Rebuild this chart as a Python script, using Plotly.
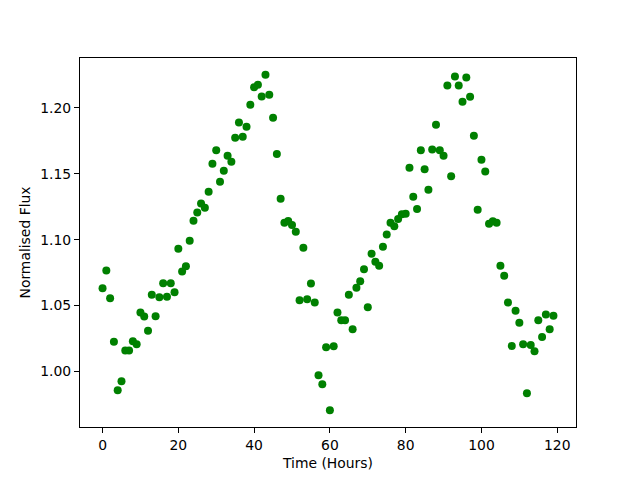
import plotly.graph_objects as go

time_hours = list(range(120))
flux = [
    1.0631, 1.0767, 1.0555, 1.0227, 0.9858, 0.9926, 1.0159, 1.0159, 1.0230, 1.0207,
    1.0447, 1.0417, 1.0310, 1.0583, 1.0419, 1.0563, 1.0669, 1.0568, 1.0669, 1.0601,
    1.0932, 1.0758, 1.0798, 1.0992, 1.1144, 1.1205, 1.1275, 1.1242, 1.1364, 1.1576,
    1.1677, 1.1439, 1.1523, 1.1636, 1.1591, 1.1773, 1.1889, 1.1780, 1.1856, 1.2023,
    1.2156, 1.2174, 1.2086, 1.2250, 1.2098, 1.1924, 1.1649, 1.1311, 1.1129, 1.1141,
    1.1111, 1.1060, 1.0540, 1.0939, 1.0548, 1.0667, 1.0523, 0.9972, 0.9904, 1.0184,
    0.9707, 1.0192, 1.0447, 1.0389, 1.0389, 1.0583, 1.0320, 1.0636, 1.0684, 1.0775,
    1.0487, 1.0894, 1.0833, 1.0803, 1.0947, 1.1040, 1.1129, 1.1101, 1.1156, 1.1192,
    1.1197, 1.1545, 1.1326, 1.1232, 1.1677, 1.1533, 1.1379, 1.1684, 1.1871, 1.1677,
    1.1636, 1.2169, 1.1480, 1.2237, 1.2169, 1.2045, 1.2230, 1.2083, 1.1788, 1.1227,
    1.1606, 1.1517, 1.1121, 1.1139, 1.1129, 1.0803, 1.0727, 1.0523, 1.0194, 1.0462,
    1.0371, 1.0207, 0.9836, 1.0202, 1.0154, 1.0389, 1.0262, 1.0432, 1.0320, 1.0424,
]
x_ticks = [0, 20, 40, 60, 80, 100, 120]
y_ticks = [1.00, 1.05, 1.10, 1.15, 1.20]

fig = go.Figure(go.Scatter(
    x=time_hours, y=flux, mode="markers",
    marker=dict(color="green", size=8, line=dict(width=0)),
))

font = dict(family="DejaVu Sans", size=13.9, color="black")
axis_common = dict(
    showline=True, linecolor="black", linewidth=1, mirror=True,
    ticks="outside", ticklen=5, tickwidth=1, tickcolor="black",
    showgrid=False, zeroline=False, tickfont=font,
)
xmin, xmax = min(time_hours), max(time_hours)
ymin, ymax = min(flux), max(flux)
xpad = (xmax - xmin) * 0.05
ypad = (ymax - ymin) * 0.05

fig.update_xaxes(range=[xmin - xpad, xmax + xpad], tickvals=x_ticks,
                 title=dict(text="Time (Hours)", font=font, standoff=6), **axis_common)
fig.update_yaxes(range=[ymin - ypad, ymax + ypad], tickvals=y_ticks, tickformat=".2f",
                 title=dict(text="Normalised Flux", font=font, standoff=6), **axis_common)

fig.update_layout(
    width=640, height=480, autosize=False,
    margin=dict(l=72, r=72, t=50, b=61),
    paper_bgcolor="white", plot_bgcolor="white",
    showlegend=False, font=font,
)
fig.write_html("out.html")
